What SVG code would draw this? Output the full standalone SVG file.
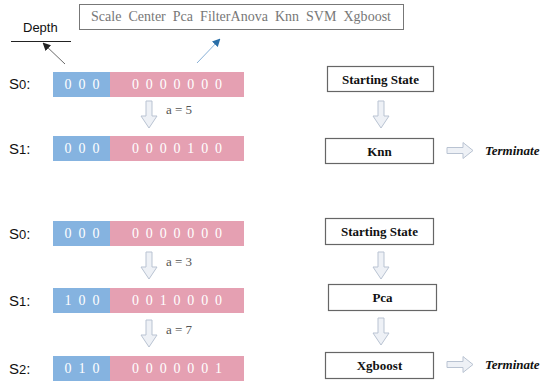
<svg xmlns="http://www.w3.org/2000/svg" width="540" height="383" viewBox="0 0 540 383">
<style>
.lbl{font-size:15px;fill:#111}
.sub{font-size:13px}
.bits{font-size:14px;fill:#fff;text-anchor:middle}
.blue{fill:#85b3e0}
.pink{fill:#e5a0b2}
.act{font-size:13px;fill:#555}
.box{fill:#fff;stroke:#666;stroke-width:1.2}
.btxt{font-size:13px;font-weight:bold;fill:#111;text-anchor:middle}
.hollow{fill:#eef1f6;stroke:#b9c3d2;stroke-width:1}
.term{font-size:13px;font-weight:bold;font-style:italic;fill:#111}
</style>
<defs>
<path id="down" d="M-3,0 H3 V15 H8 L0,27 L-8,15 H-3 Z"/>
<path id="right" d="M0,-3 H16 V-8 L26,0 L16,8 V3 H0 Z"/>
<marker id="mk" markerWidth="8" markerHeight="8" refX="6" refY="4" orient="auto" markerUnits="userSpaceOnUse"><path d="M0,0 L8,4 L0,8 Z" fill="#222"/></marker>
<marker id="mkb" markerWidth="8" markerHeight="8" refX="6" refY="4" orient="auto" markerUnits="userSpaceOnUse"><path d="M0,0 L8,4 L0,8 Z" fill="#2a6fa8"/></marker>
</defs>

<g id="action-space">
<rect x="79.5" y="4.5" width="324" height="25" fill="#fff" stroke="#777" stroke-width="1"/>
<text x="91" y="21" font-family="Liberation Serif, Times New Roman, serif" font-size="14" fill="#777" textLength="300" lengthAdjust="spacing" xml:space="preserve">Scale  Center  Pca  FilterAnova  Knn  SVM  Xgboost</text>
</g>
<g id="depth">
<text x="23" y="32" font-family="Liberation Sans, Arial, sans-serif" font-size="13" fill="#111">Depth</text>
<line x1="11" y1="41.5" x2="71" y2="41.5" stroke="#222" stroke-width="1"/>
</g>

<g id="connectors">
<line x1="65" y1="64" x2="44" y2="44" stroke="#444" stroke-width="0.8" marker-end="url(#mk)"/>
<line x1="197" y1="63" x2="219" y2="40" stroke="#6a9ccc" stroke-width="0.8" marker-end="url(#mkb)"/>
<use href="#down" class="hollow" x="149" y="101"/>
<use href="#down" class="hollow" x="149" y="252"/>
<use href="#down" class="hollow" x="149" y="320"/>
<use href="#down" class="hollow" x="381" y="101"/>
<use href="#down" class="hollow" x="381" y="252"/>
<use href="#down" class="hollow" x="381" y="318"/>
<use href="#right" class="hollow" x="447" y="150.5"/>
<use href="#right" class="hollow" x="447" y="364.5"/>
<text class="act" font-family="Liberation Serif, Times New Roman, serif" x="166" y="114">a = 5</text>
<text class="act" font-family="Liberation Serif, Times New Roman, serif" x="166" y="266">a = 3</text>
<text class="act" font-family="Liberation Serif, Times New Roman, serif" x="166" y="334">a = 7</text>
</g>

<g id="states">
<g id="s0-a">
<text class="lbl" font-family="Liberation Sans, Arial, sans-serif" x="9" y="89">S<tspan class="sub">0</tspan>:</text>
<rect class="blue" x="53" y="72" width="57" height="25"/>
<rect class="pink" x="110" y="72" width="134" height="25"/>
<text class="bits" font-family="Liberation Serif, Times New Roman, serif" x="82" y="89" textLength="35" lengthAdjust="spacing">0 0 0</text>
<text class="bits" font-family="Liberation Serif, Times New Roman, serif" x="177" y="89" textLength="90" lengthAdjust="spacing">0 0 0 0 0 0 0</text>
</g>
<g id="s1-a">
<text class="lbl" font-family="Liberation Sans, Arial, sans-serif" x="9" y="154">S<tspan class="sub">1</tspan>:</text>
<rect class="blue" x="53" y="136" width="57" height="25"/>
<rect class="pink" x="110" y="136" width="134" height="25"/>
<text class="bits" font-family="Liberation Serif, Times New Roman, serif" x="82" y="153" textLength="35" lengthAdjust="spacing">0 0 0</text>
<text class="bits" font-family="Liberation Serif, Times New Roman, serif" x="177" y="153" textLength="90" lengthAdjust="spacing">0 0 0 0 1 0 0</text>
</g>
<g id="s0-b">
<text class="lbl" font-family="Liberation Sans, Arial, sans-serif" x="9" y="239">S<tspan class="sub">0</tspan>:</text>
<rect class="blue" x="53" y="221" width="57" height="25"/>
<rect class="pink" x="110" y="221" width="134" height="25"/>
<text class="bits" font-family="Liberation Serif, Times New Roman, serif" x="82" y="238" textLength="35" lengthAdjust="spacing">0 0 0</text>
<text class="bits" font-family="Liberation Serif, Times New Roman, serif" x="177" y="238" textLength="90" lengthAdjust="spacing">0 0 0 0 0 0 0</text>
</g>
<g id="s1-b">
<text class="lbl" font-family="Liberation Sans, Arial, sans-serif" x="9" y="306">S<tspan class="sub">1</tspan>:</text>
<rect class="blue" x="53" y="288" width="57" height="25"/>
<rect class="pink" x="110" y="288" width="134" height="25"/>
<text class="bits" font-family="Liberation Serif, Times New Roman, serif" x="82" y="305" textLength="35" lengthAdjust="spacing">1 0 0</text>
<text class="bits" font-family="Liberation Serif, Times New Roman, serif" x="177" y="305" textLength="90" lengthAdjust="spacing">0 0 1 0 0 0 0</text>
</g>
<g id="s2-b">
<text class="lbl" font-family="Liberation Sans, Arial, sans-serif" x="9" y="374">S<tspan class="sub">2</tspan>:</text>
<rect class="blue" x="53" y="356" width="57" height="25"/>
<rect class="pink" x="110" y="356" width="134" height="25"/>
<text class="bits" font-family="Liberation Serif, Times New Roman, serif" x="82" y="373" textLength="35" lengthAdjust="spacing">0 1 0</text>
<text class="bits" font-family="Liberation Serif, Times New Roman, serif" x="177" y="373" textLength="90" lengthAdjust="spacing">0 0 0 0 0 0 1</text>
</g>
</g>

<g id="start-a"><rect class="box" x="327.5" y="66.5" width="106" height="25"/><text class="btxt" font-family="Liberation Serif, Times New Roman, serif" x="380.5" y="84">Starting State</text></g>
<g id="knn"><rect class="box" x="325.5" y="138.5" width="108" height="25"/><text class="btxt" font-family="Liberation Serif, Times New Roman, serif" x="379.5" y="156">Knn</text></g>
<g id="term-a"><text class="term" font-family="Liberation Serif, Times New Roman, serif" x="485" y="155">Terminate</text></g>
<g id="start-b"><rect class="box" x="325.5" y="218.5" width="108" height="26"/><text class="btxt" font-family="Liberation Serif, Times New Roman, serif" x="379.5" y="236">Starting State</text></g>
<g id="pca"><rect class="box" x="328.5" y="284.5" width="108" height="26"/><text class="btxt" font-family="Liberation Serif, Times New Roman, serif" x="382.5" y="302">Pca</text></g>
<g id="xgboost"><rect class="box" x="325.5" y="352.5" width="108" height="26"/><text class="btxt" font-family="Liberation Serif, Times New Roman, serif" x="379.5" y="370">Xgboost</text></g>
<g id="term-b"><text class="term" font-family="Liberation Serif, Times New Roman, serif" x="485" y="369">Terminate</text></g>
</svg>
